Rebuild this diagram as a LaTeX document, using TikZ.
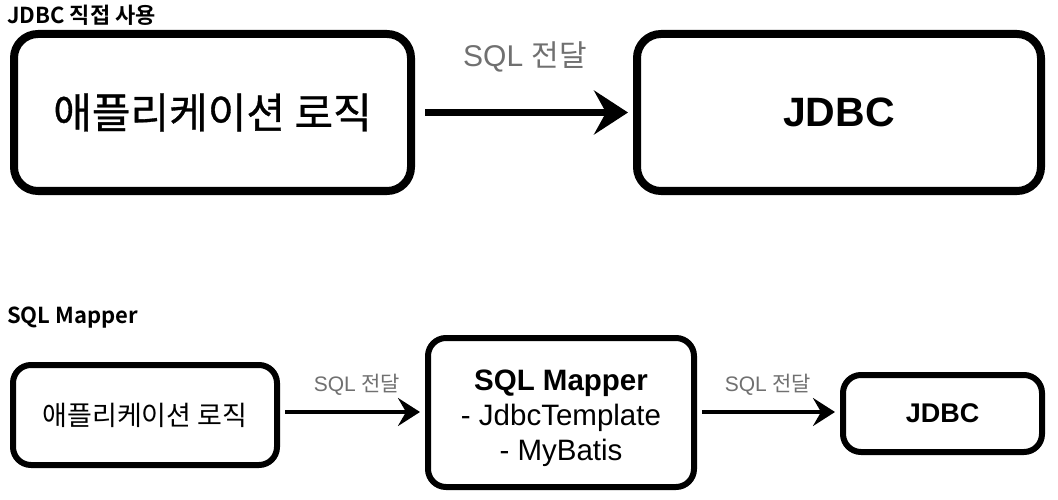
\documentclass[tikz,border=0pt]{standalone}
\usepackage{fontspec}
\setmainfont{Liberation Sans}
\newfontfamily\cjk[FakeBold=0.8]{Noto Sans CJK KR}
\newfontfamily\cjkl{Noto Sans CJK KR}
\newfontfamily\cjkb{Noto Sans CJK KR Bold}
\usetikzlibrary{arrows.meta}
\definecolor{labgray}{HTML}{707070}
\begin{document}
\begin{tikzpicture}[x=1pt,y=-1pt,
  bigbox/.style={draw, line width=8pt, rounded corners=24pt, inner sep=0pt},
  smallbox/.style={draw, line width=6pt, rounded corners=18pt, inner sep=0pt},
  bigflow/.style={line width=7pt, -{Stealth[length=34pt,width=44pt,inset=12pt]}, shorten <=10pt, shorten >=5pt},
  smallflow/.style={line width=4.5pt, -{Stealth[length=22pt,width=28pt,inset=8pt]}, shorten <=5pt, shorten >=5pt},
  title/.style={anchor=west, inner sep=0pt, font=\cjkb\fontsize{22}{25}\selectfont},
  lab/.style={text=labgray, inner sep=0pt}]
\useasboundingbox (0,0) rectangle (1058,500);
% titles
\node[title] (t1) at (7,15) {JDBC 직접 사용};
\node[title] (t2) at (7,318) {SQL Mapper};
% top row
\node[bigbox, minimum width=397pt, minimum height=157pt] (app1) at (212.5,112.5)
  {\cjk\fontsize{42}{46}\selectfont 애플리케이션 로직};
\node[bigbox, minimum width=404pt, minimum height=157pt] (jdbc1) at (839,112.5)
  {\bfseries\fontsize{41}{46}\selectfont JDBC};
\draw[bigflow] (app1.east) -- (jdbc1.west);
\node[lab] (l1) at (525,57) {\fontsize{30}{34}\selectfont SQL {\cjkl 전달}};
% bottom row
\node[smallbox, minimum width=264pt, minimum height=100pt] (app2) at (145,415)
  {\cjkl\fontsize{27}{30}\selectfont 애플리케이션 로직};
\node[smallbox, minimum width=266pt, minimum height=149pt, align=center,
  font=\fontsize{29.5}{35}\selectfont] (mapper) at (561,412.5)
  {\rule{0pt}{32pt}\textbf{SQL Mapper}\\ - JdbcTemplate\\ - MyBatis};
\node[smallbox, minimum width=199pt, minimum height=77pt] (jdbc2) at (942.5,413.5)
  {\bfseries\fontsize{27}{32}\selectfont JDBC};
\coordinate (row) at (0,412);
\draw[smallflow] (app2.east |- row) -- (mapper.west |- row);
\draw[smallflow] (mapper.east |- row) -- (jdbc2.west |- row);
\node[lab] (l2) at (357,385) {\fontsize{21}{24}\selectfont SQL {\cjkl 전달}};
\node[lab] (l3) at (768,385) {\fontsize{21}{24}\selectfont SQL {\cjkl 전달}};
\end{tikzpicture}
\end{document}
